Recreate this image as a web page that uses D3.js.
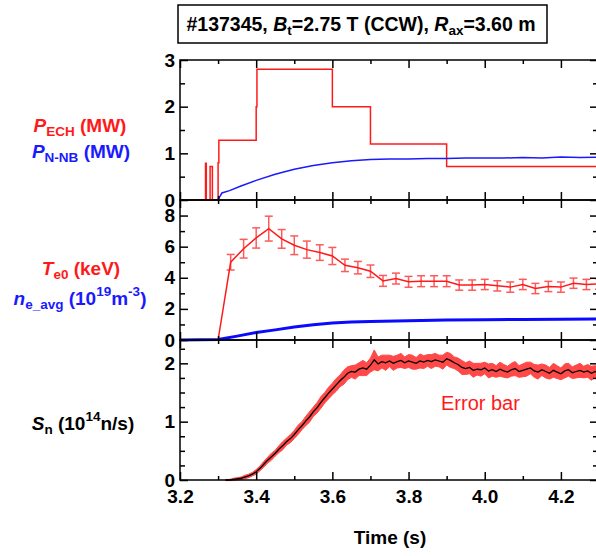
<!DOCTYPE html>
<html>
<head>
<meta charset="utf-8">
<script src="https://d3js.org/d3.v7.min.js"></script>
<style>
body { margin: 0; background: #fff; }
svg text { font-family: "Liberation Sans", Arial, sans-serif; }
.tick text { font-weight: bold; font-size: 19px; fill: #000; }
.axis path { display: none; }
.axis line { stroke: #000; stroke-width: 1.5px; }
</style>
</head>
<body>
<svg id="chart" width="596" height="556"></svg>
<script>
// ---- data ----
// panel 1: ECH power (step trace) and N-NB power
var pechT = [3.20, 3.267, 3.269, 3.279, 3.285, 3.300, 3.302, 3.400, 3.402, 3.600, 3.700, 3.900, 4.30];
var pechV = [0,    0.79,  0,     0.72,  0,     0.80,  1.28,  2.00,  2.80,  2.00,  1.20,  0.72,  0.72];
var pnbT = [3.30, 3.305, 3.31, 3.33, 3.36, 3.40, 3.45, 3.50, 3.55, 3.60, 3.65, 3.70, 3.75, 3.80, 3.85, 3.90, 3.95, 4.00, 4.05, 4.10, 4.15, 4.20, 4.25, 4.30];
var pnbV = [0,    0.08,  0.15, 0.20, 0.30, 0.42, 0.55, 0.66, 0.74, 0.80, 0.84, 0.87, 0.88, 0.88, 0.89, 0.89, 0.90, 0.90, 0.90, 0.91, 0.90, 0.92, 0.91, 0.92];

// panel 2: central Te with error bars, line-averaged density
var teT = [3.300, 3.333, 3.367, 3.400, 3.433, 3.467, 3.500, 3.533, 3.567, 3.600, 3.633, 3.667, 3.700, 3.733, 3.767, 3.800,
           3.833, 3.867, 3.900, 3.933, 3.967, 4.000, 4.033, 4.067, 4.100, 4.133, 4.167, 4.200, 4.233, 4.267, 4.300];
var teV = [0, 5.00, 5.87, 6.56, 7.16, 6.50, 6.09, 5.81, 5.62, 5.40, 4.80, 4.65, 4.42, 3.80, 3.95, 3.74,
           3.78, 3.78, 3.78, 3.53, 3.53, 3.57, 3.48, 3.40, 3.57, 3.31, 3.44, 3.40, 3.65, 3.57, 3.60];
var teErr = [0, 0.50, 0.60, 0.65, 0.80, 0.60, 0.60, 0.55, 0.50, 0.55, 0.40, 0.40, 0.40, 0.35, 0.35, 0.35,
             0.35, 0.35, 0.35, 0.33, 0.33, 0.33, 0.33, 0.33, 0.33, 0.33, 0.33, 0.33, 0.33, 0.33, 0.33];
var neT = [3.20, 3.30, 3.35, 3.40, 3.45, 3.50, 3.55, 3.60, 3.65, 3.70, 3.80, 3.90, 4.00, 4.10, 4.20, 4.30];
var neV = [0,    0.03, 0.25, 0.48, 0.65, 0.83, 0.98, 1.09, 1.15, 1.19, 1.24, 1.28, 1.30, 1.32, 1.34, 1.35];

// panel 3: neutron rate sampled every 10 ms from 3.32 s, with its error
var snStart = 3.32, snStep = 0.01;
var snV = [0.00, 0.00, 0.01, 0.02, 0.03, 0.05, 0.07, 0.10,
           0.14, 0.20, 0.27, 0.34, 0.40, 0.46, 0.53, 0.59, 0.66, 0.71,
           0.78, 0.86, 0.93, 1.01, 1.08, 1.17, 1.24, 1.33, 1.41, 1.49,
           1.56, 1.63, 1.70, 1.76, 1.83, 1.86, 1.85, 1.90, 1.92, 1.90,
           1.97, 2.06, 1.99, 2.03, 2.01, 2.04, 2.00, 2.03, 2.05, 2.01,
           2.04, 2.02, 2.00, 2.04, 2.02, 2.05, 2.03, 2.06, 2.04, 2.02,
           2.08, 2.05, 2.01, 1.98, 1.93, 1.91, 1.93, 1.88, 1.90, 1.89,
           1.92, 1.87, 1.89, 1.86, 1.90, 1.87, 1.85, 1.89, 1.91, 1.86,
           1.88, 1.90, 1.92, 1.87, 1.85, 1.89, 1.86, 1.83, 1.88, 1.85,
           1.82, 1.87, 1.89, 1.84, 1.86, 1.88, 1.85, 1.87, 1.83, 1.86, 1.82];
var snErr = [0.01, 0.01, 0.02, 0.02, 0.02, 0.03, 0.03, 0.03,
             0.04, 0.04, 0.05, 0.05, 0.06, 0.05, 0.06, 0.07, 0.06, 0.07,
             0.07, 0.08, 0.07, 0.08, 0.09, 0.08, 0.09, 0.10, 0.09, 0.10,
             0.10, 0.11, 0.10, 0.12, 0.11, 0.10, 0.12, 0.11, 0.13, 0.11,
             0.12, 0.17, 0.12, 0.11, 0.13, 0.10, 0.12, 0.11, 0.12, 0.10,
             0.11, 0.12, 0.10, 0.12, 0.11, 0.10, 0.12, 0.11, 0.10, 0.12,
             0.11, 0.12, 0.10, 0.11, 0.12, 0.10, 0.11, 0.12, 0.10, 0.11,
             0.10, 0.12, 0.11, 0.10, 0.12, 0.11, 0.10, 0.11, 0.12, 0.10,
             0.11, 0.12, 0.10, 0.11, 0.12, 0.10, 0.11, 0.10, 0.12, 0.11,
             0.10, 0.12, 0.11, 0.10, 0.11, 0.12, 0.10, 0.11, 0.12, 0.10, 0.11];

var xMajor = [3.2, 3.4, 3.6, 3.8, 4.0, 4.2];
var xMinor = [3.3, 3.5, 3.7, 3.9, 4.1];

var svg = d3.select("#chart");
var x = d3.scaleLinear().domain([3.2, 4.3]).range([180, 599]);

// three stacked panels
var panels = [
  {top: 60,  bottom: 200, dom: [0, 3],   major: [0, 1, 2, 3],    minor: [0.5, 1.5, 2.5]},
  {top: 200, bottom: 340, dom: [0, 9],   major: [0, 2, 4, 6, 8], minor: [1, 3, 5, 7]},
  {top: 340, bottom: 480, dom: [0, 2.4], major: [0, 1, 2],       minor: [0.25, 0.5, 0.75, 1.25, 1.5, 1.75, 2.25]}
];
panels.forEach(function(p) {
  p.y = d3.scaleLinear().domain(p.dom).range([p.bottom, p.top]);
});

var plot = svg.append("g");

// ---- panel 1 ----
var y1 = panels[0].y;
plot.append("path")
  .datum(pechT.map(function(t, i) { return [t, pechV[i]]; }))
  .attr("fill", "none").attr("stroke", "#ff1a1a").attr("stroke-width", 1.5)
  .attr("d", d3.line().curve(d3.curveStepAfter)
    .x(function(d) { return x(d[0]); }).y(function(d) { return y1(d[1]); }));
plot.append("path")
  .datum(pnbT.map(function(t, i) { return [t, pnbV[i]]; }))
  .attr("fill", "none").attr("stroke", "#1a1aff").attr("stroke-width", 1.5)
  .attr("d", d3.line().x(function(d) { return x(d[0]); }).y(function(d) { return y1(d[1]); }));

// ---- panel 2 ----
var y2 = panels[1].y;
plot.append("path")
  .datum(neT.map(function(t, i) { return [t, neV[i]]; }))
  .attr("fill", "none").attr("stroke", "#0a0aff").attr("stroke-width", 3)
  .attr("d", d3.line().x(function(d) { return x(d[0]); }).y(function(d) { return y2(d[1]); }));
var te = teT.map(function(t, i) { return {t: t, v: teV[i], e: teErr[i]}; });
var eb = plot.append("g").attr("stroke", "#ff5a5a").attr("stroke-width", 1.5)
  .selectAll("g").data(te.filter(function(d) { return d.e > 0; })).enter().append("g");
eb.append("line")
  .attr("x1", function(d) { return x(d.t); }).attr("x2", function(d) { return x(d.t); })
  .attr("y1", function(d) { return y2(d.v - d.e); }).attr("y2", function(d) { return y2(d.v + d.e); });
eb.append("line")
  .attr("x1", function(d) { return x(d.t) - 4; }).attr("x2", function(d) { return x(d.t) + 4; })
  .attr("y1", function(d) { return y2(d.v - d.e); }).attr("y2", function(d) { return y2(d.v - d.e); });
eb.append("line")
  .attr("x1", function(d) { return x(d.t) - 4; }).attr("x2", function(d) { return x(d.t) + 4; })
  .attr("y1", function(d) { return y2(d.v + d.e); }).attr("y2", function(d) { return y2(d.v + d.e); });
plot.append("path")
  .datum(te)
  .attr("fill", "none").attr("stroke", "#ff1a1a").attr("stroke-width", 1.5)
  .attr("d", d3.line().x(function(d) { return x(d.t); }).y(function(d) { return y2(d.v); }));

// ---- panel 3 ----
var y3 = panels[2].y;
var sn = snV.map(function(v, i) { return {t: snStart + i * snStep, v: v, e: snErr[i]}; });
plot.append("path")
  .datum(sn)
  .attr("fill", "#ff4848").attr("stroke", "#ff4848").attr("stroke-width", 1)
  .attr("d", d3.area().x(function(d) { return x(d.t); })
    .y0(function(d) { return y3(d.v - d.e); }).y1(function(d) { return y3(d.v + d.e); }));
plot.append("path")
  .datum(sn)
  .attr("fill", "none").attr("stroke", "#000").attr("stroke-width", 1.3)
  .attr("d", d3.line().x(function(d) { return x(d.t); }).y(function(d) { return y3(d.v); }));

svg.append("text").attr("x", 441).attr("y", 410)
  .attr("font-size", 20).attr("fill", "#ff1a1a").text("Error bar");

// ---- frames and ticks ----
panels.forEach(function(p, k) {
  var g = svg.append("g");
  g.append("rect").attr("x", 180).attr("y", p.top)
    .attr("width", 418).attr("height", p.bottom - p.top)
    .attr("fill", "none").attr("stroke", "#000").attr("stroke-width", 1.5);

  // left axis with labels, inward ticks
  g.append("g").attr("class", "axis").attr("transform", "translate(180,0)")
    .call(d3.axisLeft(p.y).tickValues(k == 0 ? p.major : p.major.filter(function(v) { return v < p.dom[1]; }))
      .tickSize(-8).tickPadding(5).tickFormat(d3.format("d")));
  g.append("g").attr("class", "axis").attr("transform", "translate(180,0)")
    .call(d3.axisLeft(p.y).tickValues(p.minor).tickSize(-5).tickFormat(""));
  // right axis, inward ticks
  g.append("g").attr("class", "axis").attr("transform", "translate(598,0)")
    .call(d3.axisRight(p.y).tickValues(p.major).tickSize(-8).tickFormat(""));
  g.append("g").attr("class", "axis").attr("transform", "translate(598,0)")
    .call(d3.axisRight(p.y).tickValues(p.minor).tickSize(-5).tickFormat(""));

  // bottom and top ticks
  g.append("g").attr("class", "axis").attr("transform", "translate(0," + p.bottom + ")")
    .call(d3.axisBottom(x).tickValues(xMajor).tickSize(-8)
      .tickFormat(k == 2 ? d3.format(".1f") : "").tickPadding(10));
  g.append("g").attr("class", "axis").attr("transform", "translate(0," + p.bottom + ")")
    .call(d3.axisBottom(x).tickValues(xMinor).tickSize(-4).tickFormat(""));
  g.append("g").attr("class", "axis").attr("transform", "translate(0," + p.top + ")")
    .call(d3.axisTop(x).tickValues(xMajor).tickSize(-8).tickFormat(""));
  g.append("g").attr("class", "axis").attr("transform", "translate(0," + p.top + ")")
    .call(d3.axisTop(x).tickValues(xMinor).tickSize(-4).tickFormat(""));
});

svg.append("text").attr("x", 390).attr("y", 544).attr("text-anchor", "middle")
  .attr("font-size", 19).attr("font-weight", "bold").text("Time (s)");

// ---- title box ----
svg.append("rect").attr("x", 178).attr("y", 5).attr("width", 369).attr("height", 38)
  .attr("fill", "#fff").attr("stroke", "#000").attr("stroke-width", 1.5);
var title = svg.append("text").attr("x", 361).attr("y", 31).attr("text-anchor", "middle")
  .attr("font-size", 19.5).attr("font-weight", "bold");
title.append("tspan").text("#137345, ");
title.append("tspan").attr("font-style", "italic").text("B");
title.append("tspan").attr("font-size", 13.5).attr("dy", 4).text("t");
title.append("tspan").attr("dy", -4).text("=2.75 T (CCW), ");
title.append("tspan").attr("font-style", "italic").text("R");
title.append("tspan").attr("font-size", 13.5).attr("dy", 4).text("ax");
title.append("tspan").attr("dy", -4).text("=3.60 m");

// ---- left-hand labels ----
function label(cx, cy, color, parts) {
  var t = svg.append("text").attr("x", cx).attr("y", cy).attr("text-anchor", "middle")
    .attr("font-size", 19).attr("font-weight", "bold").attr("fill", color);
  parts.forEach(function(p) {
    var s = t.append("tspan").text(p.s);
    if (p.it) s.attr("font-style", "italic");
    if (p.fs) s.attr("font-size", p.fs);
    if (p.dy) s.attr("dy", p.dy);
  });
}
label(80, 132, "#ff1a1a", [{s: "P", it: 1}, {s: "ECH", fs: 13.5, dy: 4}, {s: " (MW)", dy: -4}]);
label(81, 158, "#1a1aff", [{s: "P", it: 1}, {s: "N-NB", fs: 13.5, dy: 4}, {s: " (MW)", dy: -4}]);
label(81, 275, "#ff1a1a", [{s: "T", it: 1}, {s: "e0", fs: 13.5, dy: 4}, {s: " (keV)", dy: -4}]);
label(80, 305, "#1a1aff", [{s: "n", it: 1}, {s: "e_avg", fs: 13.5, dy: 4}, {s: " (10", dy: -4},
  {s: "19", fs: 13.5, dy: -9}, {s: "m", dy: 9}, {s: "-3", fs: 13.5, dy: -9}, {s: ")", dy: 9}]);
label(83, 430, "#000", [{s: "S", it: 1}, {s: "n", fs: 13.5, dy: 4}, {s: " (10", dy: -4},
  {s: "14", fs: 13.5, dy: -9}, {s: "n/s)", dy: 9}]);
</script>
</body>
</html>
